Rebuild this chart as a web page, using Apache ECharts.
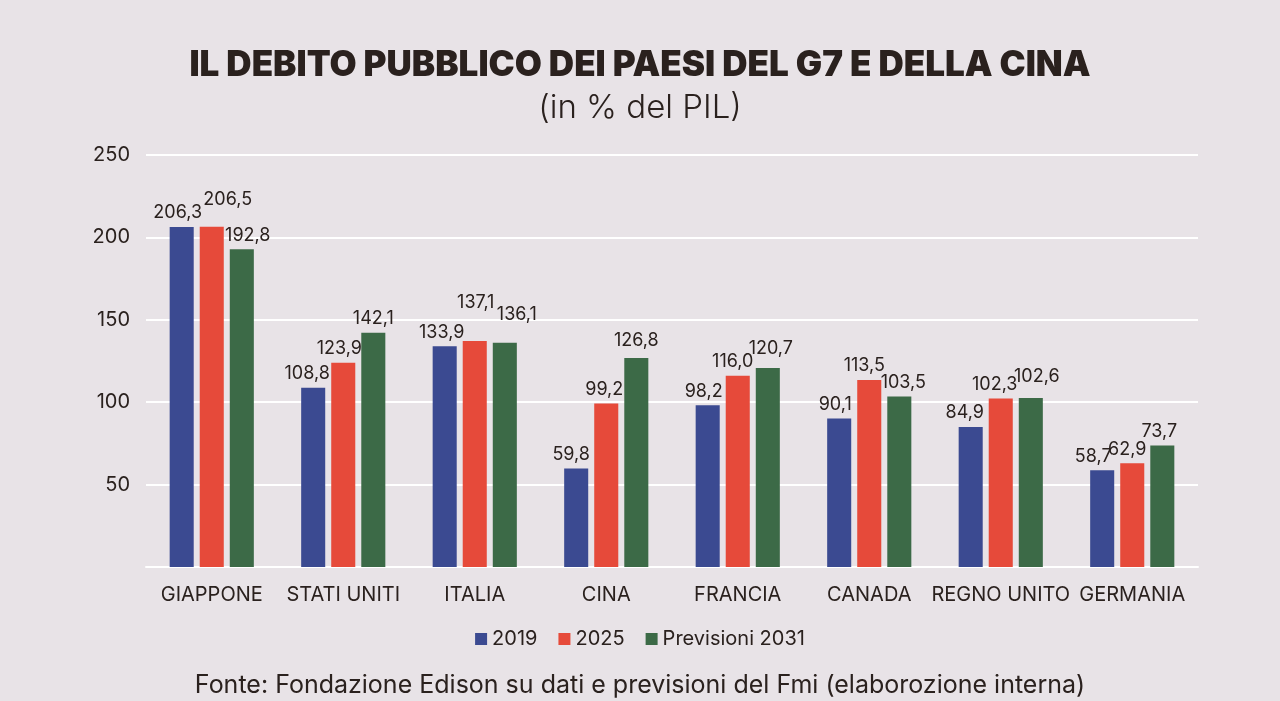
<!DOCTYPE html>
<html>
<head>
<meta charset="utf-8">
<script src="https://cdn.jsdelivr.net/npm/echarts@6/dist/echarts.min.js"></script>
<style>
html,body{margin:0;padding:0;background:#e8e3e7;}
#c{width:1280px;height:701px;}
</style>
</head>
<body>
<div id="c"></div>
<script>
var categories = ['GIAPPONE','STATI UNITI','ITALIA','CINA','FRANCIA','CANADA','REGNO UNITO','GERMANIA'];
var seriesNames = ['2019','2025','Previsioni 2031'];
var values2019 = [206.3,108.8,133.9,59.8,98.2,90.1,84.9,58.7];
var values2025 = [206.5,123.9,137.1,99.2,116.0,113.5,102.3,62.9];
var values2031 = [192.8,142.1,136.1,126.8,120.7,103.5,102.6,73.7];
var yTicks = [0,50,100,150,200,250];

// label nudges (style only)
var off2019 = [[-4,0],[-6,0],[-3,0],[-5,0],[-4,0],[-4,0],[-6,0],[-9,0]];
var off2025 = [[16,-13],[-4,0],[1,-24],[-2,0],[-5,0],[-5,0],[-6,0],[-5,0]];
var off2031 = [[6,0],[0,0],[12,-14],[0,-3],[3,-5],[4,0],[6,-7],[-3,0]];

var colors = ['#3b4a91','#e64a3a','#3c6a47'];
var txt = '#2a211e';
var FONT = 'Inter, "Noto Sans", sans-serif';

function build(vals, offs) {
  return vals.map(function(v,i){
    return {value:v, label:{offset:offs[i]}};
  });
}
function fmt(p){ return p.value.toFixed(1).replace('.',','); }

var chart = echarts.init(document.getElementById('c'));
chart.setOption({
  backgroundColor:'#e8e3e7',
  animation:false,
  title:[
    {text:'IL DEBITO PUBBLICO DEI PAESI DEL G7 E DELLA CINA', left:'center', top:43,
     textStyle:{fontFamily:FONT, fontSize:35, fontWeight:900, color:txt}},
    {text:'(in % del PIL)', left:'center', top:87,
     textStyle:{fontFamily:FONT, fontSize:33, fontWeight:300, color:txt}},
    {text:'Fonte: Fondazione Edison su dati e previsioni del Fmi (elaborozione interna)', left:'center', top:668,
     textStyle:{fontFamily:FONT, fontSize:25, fontWeight:400, color:txt}}
  ],
  legend:{
    data:seriesNames, left:'center', top:624,
    itemWidth:12, itemHeight:12, itemGap:21, icon:'rect',
    textStyle:{fontFamily:FONT, fontSize:20, color:txt}
  },
  grid:{left:146, right:82, top:155, bottom:134, containLabel:false},
  xAxis:{
    type:'category', data:categories,
    axisLine:{show:true, lineStyle:{color:'#ffffff', width:2}},
    axisTick:{show:false},
    axisLabel:{fontFamily:FONT, fontSize:20, color:txt, margin:18, interval:0}
  },
  yAxis:{
    type:'value', min:0, max:250, interval:50,
    axisLine:{show:false}, axisTick:{show:false},
    splitLine:{lineStyle:{color:'#ffffff', width:2}},
    axisLabel:{fontFamily:FONT, fontSize:20, color:txt, margin:16,
      formatter:function(v){ return v===0 ? '' : String(v); }}
  },
  series:[
    {name:seriesNames[0], type:'bar', data:build(values2019,off2019), itemStyle:{color:colors[0]},
     barGap:'25%', barCategoryGap:'36%',
     label:{show:true, position:'top', distance:5, fontFamily:FONT, fontSize:18, color:txt, formatter:fmt}},
    {name:seriesNames[1], type:'bar', data:build(values2025,off2025), itemStyle:{color:colors[1]},
     barGap:'25%', barCategoryGap:'36%',
     label:{show:true, position:'top', distance:5, fontFamily:FONT, fontSize:18, color:txt, formatter:fmt}},
    {name:seriesNames[2], type:'bar', data:build(values2031,off2031), itemStyle:{color:colors[2]},
     barGap:'25%', barCategoryGap:'36%',
     label:{show:true, position:'top', distance:5, fontFamily:FONT, fontSize:18, color:txt, formatter:fmt}}
  ]
});
</script>
</body>
</html>
